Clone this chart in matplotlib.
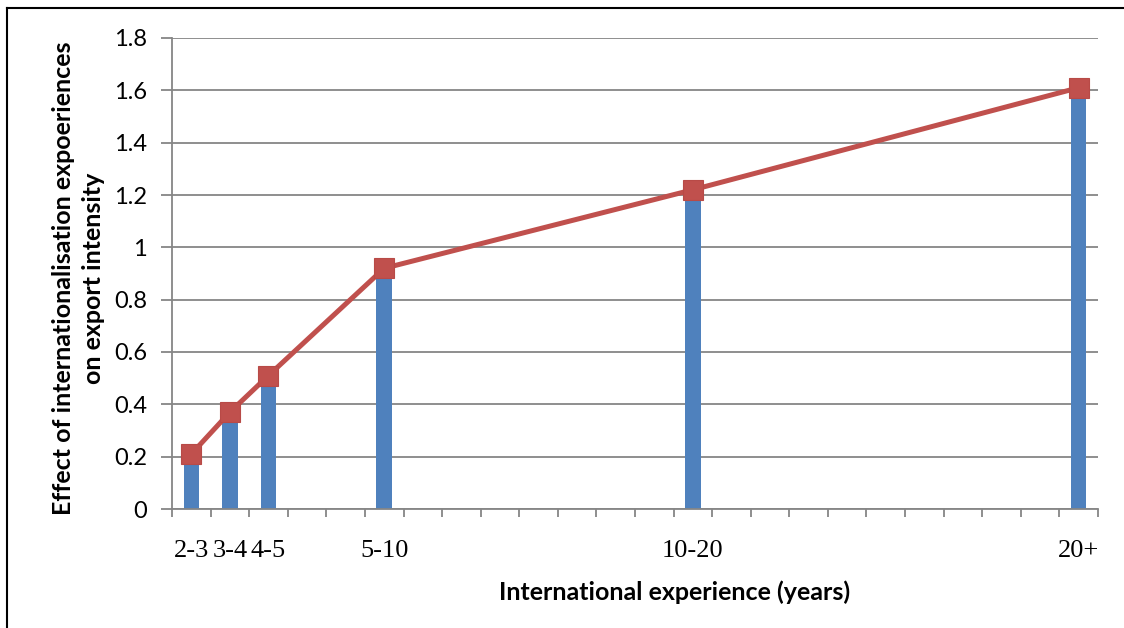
import numpy as np
import matplotlib
matplotlib.use("Agg")
import matplotlib.pyplot as plt
from matplotlib.lines import Line2D

# Experience brackets on a 24-slot category axis (blank slots keep the spacing)
categories = ["2-3", "3-4", "4-5", "", "", "5-10", "", "", "", "", "", "",
              "", "10-20", "", "", "", "", "", "", "", "", "", "20+"]
nan = np.nan
effect = [0.21, 0.37, 0.51, nan, nan, 0.92, nan, nan, nan, nan, nan, nan,
          nan, 1.22, nan, nan, nan, nan, nan, nan, nan, nan, nan, 1.61]
y_ticks = [0, 0.2, 0.4, 0.6, 0.8, 1, 1.2, 1.4, 1.6, 1.8]
y_tick_labels = ["0", "0.2", "0.4", "0.6", "0.8", "1", "1.2", "1.4", "1.6", "1.8"]

BAR = "#4F81BD"
LINE = "#C0504D"
GRID = "#868686"

fig = plt.figure(figsize=(11.24, 6.28), dpi=100)
ax = fig.add_axes([172 / 1124, 1 - 509 / 628, (1098 - 172) / 1124, (509 - 38) / 628])

x = np.arange(len(categories))
vals = np.array(effect, dtype=float)
mask = ~np.isnan(vals)

ax.bar(x[mask], vals[mask], width=0.4, color=BAR, zorder=2)
ax.plot(x[mask], vals[mask], color=LINE, lw=3.6, marker="s", markersize=14.5,
        markerfacecolor=LINE, markeredgecolor="#B84A47", markeredgewidth=0.8,
        zorder=3, solid_joinstyle="round")

ax.set_xlim(-0.5, len(categories) - 0.5)
ax.set_ylim(0, 1.8)

ax.set_yticks(y_ticks)
ax.set_yticklabels(y_tick_labels, fontfamily="Lato", fontsize=17)
ax.yaxis.grid(True, color=GRID, lw=1.3, zorder=0)
ax.set_axisbelow(True)

ax.set_xticks(x)
ax.set_xticklabels(categories, fontfamily="Liberation Serif", fontsize=19)
ax.set_xticks(np.arange(-0.5, len(categories)), minor=True)
ax.tick_params(axis="x", which="major", length=0, pad=22)
ax.tick_params(axis="x", which="minor", length=6, width=1.3, color=GRID, direction="out")
ax.tick_params(axis="y", length=8, width=1.3, color=GRID, pad=10)

for side in ("top", "right"):
    ax.spines[side].set_visible(False)
for side in ("left", "bottom"):
    ax.spines[side].set_color(GRID)
    ax.spines[side].set_linewidth(1.3)

ax.set_xlabel("International experience (years)", fontfamily="Lato",
              fontweight="bold", fontsize=18)
ax.xaxis.set_label_coords(0.5427, -0.152)
ax.set_ylabel("Effect of internationalisation expoeriences\non export intensity",
              fontfamily="Lato", fontweight="bold", fontsize=18,
              linespacing=1.4, multialignment="center")
ax.yaxis.set_label_coords(-0.072, 0.49)

# Frame lines along the top and left edges of the figure
fig.add_artist(Line2D([7 / 1124, 7 / 1124], [0, 1 - 8 / 628], color="black", lw=1.5))
fig.add_artist(Line2D([7 / 1124, 1], [1 - 8 / 628, 1 - 8 / 628], color="black", lw=1.5))

fig.savefig("out.png", dpi=100)
